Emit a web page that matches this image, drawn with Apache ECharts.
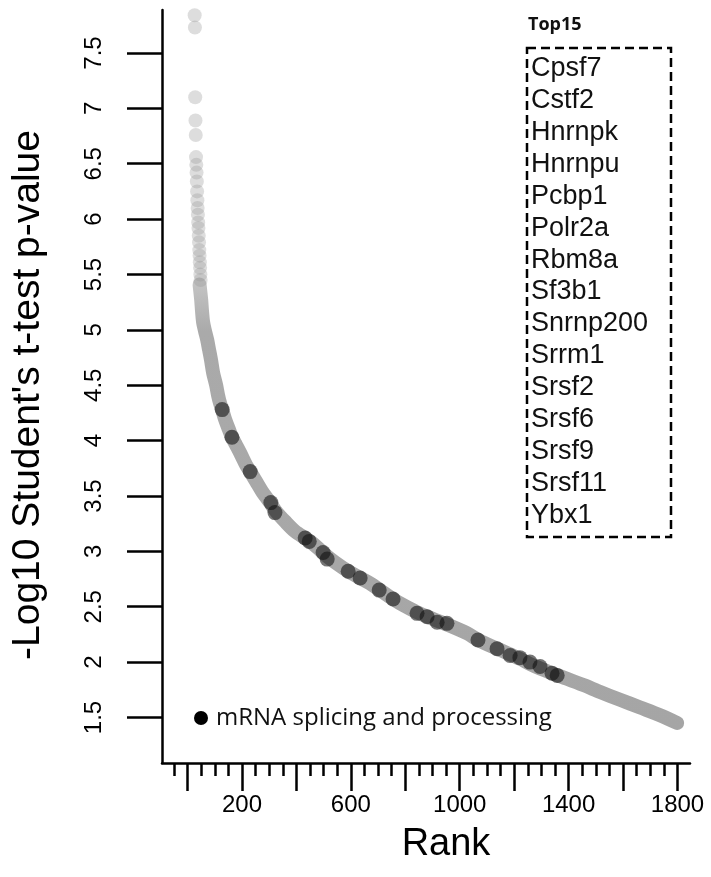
<!DOCTYPE html>
<html>
<head>
<meta charset="utf-8">
<script src="https://cdn.jsdelivr.net/npm/echarts@6/dist/echarts.min.js"></script>
<style>
  html, body { margin: 0; padding: 0; background: #fff; }
  #chart { width: 711px; height: 877px; }
</style>
</head>
<body>
<div id="chart"></div>
<script>
// sparse high points at the top of the ranking
const topRanks = [26, 27, 28, 29, 30, 31, 32, 33, 34, 35, 36, 37, 38, 39, 40, 41, 42, 43, 44, 45, 46, 47, 48];
const topValues = [7.84, 7.73, 7.10, 6.89, 6.76, 6.56, 6.49, 6.42, 6.34, 6.25, 6.17, 6.10, 6.04, 5.97, 5.92, 5.85, 5.79, 5.72, 5.67, 5.61, 5.56, 5.50, 5.45];

// dense band of all other proteins
const bandRanks = [44, 50, 53, 57, 64, 72, 79, 86, 94, 105, 112, 119, 127, 138, 152, 163, 178, 197, 215, 230, 252, 274, 303, 325, 358, 395, 432, 450, 479, 505, 542, 590, 634, 671, 707, 755, 781, 843, 902, 953, 1027, 1067, 1148, 1221, 1269, 1339, 1394, 1457, 1516, 1589, 1663, 1736, 1799];
const bandValues = [5.41, 5.27, 5.17, 5.07, 4.99, 4.91, 4.82, 4.73, 4.61, 4.50, 4.41, 4.34, 4.28, 4.19, 4.10, 4.03, 3.96, 3.87, 3.78, 3.72, 3.63, 3.54, 3.44, 3.36, 3.27, 3.18, 3.12, 3.09, 3.03, 2.97, 2.90, 2.82, 2.76, 2.71, 2.65, 2.57, 2.53, 2.45, 2.39, 2.34, 2.26, 2.20, 2.11, 2.03, 1.97, 1.90, 1.85, 1.79, 1.73, 1.66, 1.59, 1.52, 1.45];

// mRNA splicing and processing hits
const splicingRanks = [127, 163, 230, 306, 321, 432, 447, 498, 513, 590, 634, 704, 755, 843, 880, 917, 953, 1067, 1137, 1185, 1221, 1258, 1295, 1339, 1358];
const splicingValues = [4.28, 4.03, 3.72, 3.44, 3.35, 3.12, 3.09, 2.99, 2.93, 2.82, 2.76, 2.65, 2.57, 2.44, 2.41, 2.36, 2.35, 2.20, 2.12, 2.06, 2.04, 2.00, 1.96, 1.90, 1.88];

const topGenes = ['Cpsf7', 'Cstf2', 'Hnrnpk', 'Hnrnpu', 'Pcbp1', 'Polr2a', 'Rbm8a', 'Sf3b1', 'Snrnp200', 'Srrm1', 'Srsf2', 'Srsf6', 'Srsf9', 'Srsf11', 'Ybx1'];

const rankTicks = [0, 200, 400, 600, 800, 1000, 1200, 1400, 1600, 1800];
const rankMinorTicks = [-50, 50, 100, 150, 250, 300, 350, 450, 500, 550, 650, 700, 750, 850, 900, 950, 1050, 1100, 1150, 1250, 1300, 1350, 1450, 1500, 1550, 1650, 1700, 1750];
const rankLabels = [200, 600, 1000, 1400, 1800];
const pvalTicks = [1.5, 2, 2.5, 3, 3.5, 4, 4.5, 5, 5.5, 6, 6.5, 7, 7.5];

const zip = (xs, ys) => xs.map((x, i) => [x, ys[i]]);

const chart = echarts.init(document.getElementById('chart'));

const axisFont = { color: '#000', fontFamily: 'Liberation Sans', fontSize: 24 };

const geneTexts = topGenes.map((name, i) => ({
  type: 'text',
  left: 531,
  top: 55 + i * 31.93,
  style: { text: name, fill: '#111', font: '27px "Liberation Sans"' }
}));

chart.setOption({
  animation: false,
  grid: {
    left: 162,
    right: 21,
    top: 10,
    bottom: 114,
    outerBoundsMode: 'none'
  },
  legend: {
    left: 194,
    top: 706,
    padding: 0,
    data: ['mRNA splicing and processing'],
    icon: 'circle',
    itemWidth: 14,
    itemHeight: 14,
    itemStyle: { color: '#000', opacity: 1 },
    textStyle: { color: '#111', fontFamily: 'Open Sans', fontSize: 24, padding: [0, 0, 0, 3] }
  },
  xAxis: [
    {
      type: 'value',
      position: 'bottom',
      min: -94,
      max: 1846,
      name: 'Rank',
      nameLocation: 'middle',
      nameGap: 63,
      nameTextStyle: { color: '#000', fontFamily: 'Liberation Sans', fontSize: 38, padding: [0, 0, 0, 40] },
      axisLine: { onZero: false, lineStyle: { color: '#000', width: 2.5 } },
      axisTick: { customValues: rankTicks, length: 28, lineStyle: { color: '#000', width: 2.5 } },
      axisLabel: Object.assign({ customValues: rankLabels, margin: 30, formatter: v => String(v) }, axisFont),
      splitLine: { show: false }
    },
    {
      type: 'value',
      position: 'bottom',
      offset: 0,
      min: -94,
      max: 1846,
      axisLine: { show: false, onZero: false },
      axisTick: { customValues: rankMinorTicks, length: 13, lineStyle: { color: '#000', width: 2.5 } },
      axisLabel: { show: false },
      splitLine: { show: false }
    }
  ],
  yAxis: {
    type: 'value',
    min: 1.089,
    max: 7.888,
    name: "-Log10 Student's t-test p-value",
    nameLocation: 'middle',
    nameGap: 114,
    nameTextStyle: { color: '#000', fontFamily: 'Liberation Sans', fontSize: 39, padding: [0, 17, 0, 0] },
    axisLine: { onZero: false, lineStyle: { color: '#000', width: 2.5 } },
    axisTick: { customValues: pvalTicks, length: 35, lineStyle: { color: '#000', width: 2.5 } },
    axisLabel: Object.assign({ customValues: pvalTicks, rotate: 90, margin: 56 }, axisFont),
    splitLine: { show: false }
  },
  tooltip: { show: false },
  series: [
    {
      name: 'all',
      type: 'line',
      data: zip(bandRanks, bandValues),
      smooth: 0.3,
      symbol: 'none',
      lineStyle: {
        width: 14,
        cap: 'round',
        join: 'round',
        color: new echarts.graphic.LinearGradient(0, 0, 0, 1, [
          { offset: 0, color: '#c6c6c6' },
          { offset: 0.12, color: '#aaaaaa' },
          { offset: 1, color: '#a5a5a5' }
        ])
      },
      z: 1
    },
    {
      name: 'top',
      type: 'scatter',
      data: zip(topRanks, topValues),
      symbolSize: 14,
      itemStyle: { color: 'rgba(150, 150, 150, 0.4)' },
      z: 2
    },
    {
      name: 'mRNA splicing and processing',
      type: 'scatter',
      data: zip(splicingRanks, splicingValues),
      symbolSize: 15,
      itemStyle: { color: 'rgba(15, 15, 15, 0.72)' },
      z: 3
    }
  ],
  graphic: [
    {
      type: 'text',
      left: 528,
      top: 16,
      style: { text: 'Top15', fill: '#111', font: 'bold 18px "Open Sans"' }
    },
    {
      type: 'rect',
      shape: { x: 527, y: 48, width: 144, height: 489 },
      style: { fill: 'none', stroke: '#000', lineWidth: 2.5, lineDash: [9, 5] }
    }
  ].concat(geneTexts)
});
</script>
</body>
</html>
